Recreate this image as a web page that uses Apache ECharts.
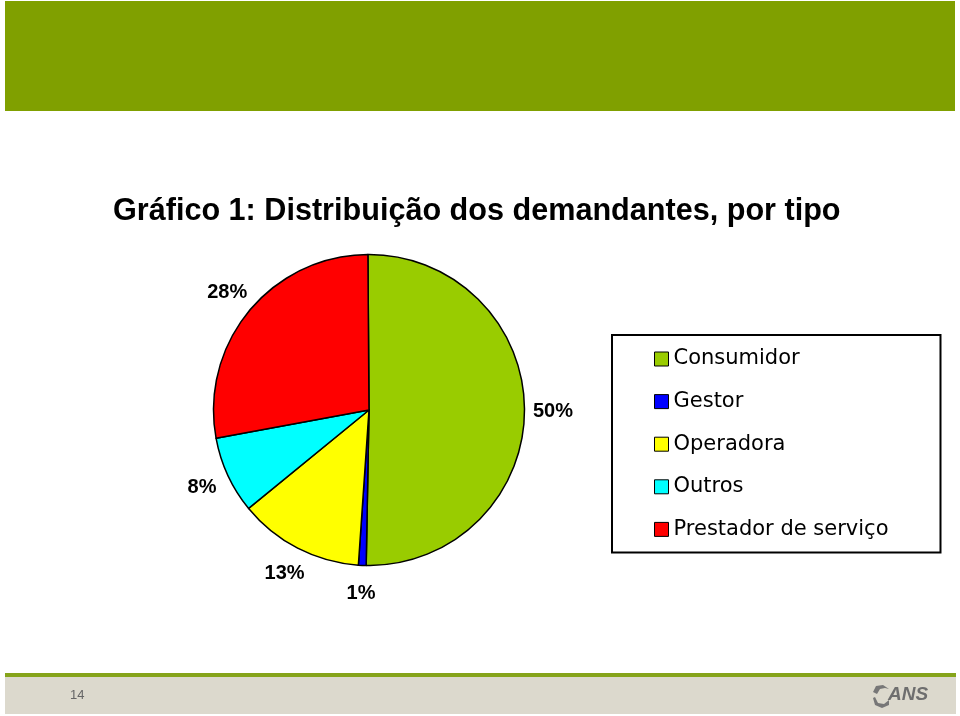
<!DOCTYPE html>
<html>
<head>
<meta charset="utf-8">
<script src="https://cdn.jsdelivr.net/npm/echarts@6/dist/echarts.min.js"></script>
<style>
html,body{margin:0;padding:0;background:#fff;}
#chart{width:960px;height:716px;}
</style>
</head>
<body>
<div id="chart"></div>
<script>
// Data
var categories = ['Consumidor', 'Gestor', 'Operadora', 'Outros', 'Prestador de serviço'];
var values = [50.4, 0.8, 13.0, 8.0, 27.8];
var colors = ['#99CC00', '#0000FF', '#FFFF00', '#00FFFF', '#FF0000'];
var titleText = 'Gráfico 1: Distribuição dos demandantes, por tipo';
var pageNumber = '14';

var pieData = categories.map(function (c, i) {
  return { name: c, value: values[i], itemStyle: { color: colors[i] } };
});
var labelData = categories.map(function (c, i) {
  return { name: c, value: values[i] };
});

var chart = echarts.init(document.getElementById('chart'), null, { renderer: 'canvas' });
chart.setOption({
  animation: false,
  backgroundColor: '#ffffff',
  title: {
    text: titleText,
    left: 108,
    top: 191,
    textStyle: { fontFamily: 'Liberation Sans', fontWeight: 'bold', fontSize: 30.6, color: '#000' }
  },
  legend: {
    orient: 'vertical',
    left: 612,
    top: 335,
    data: categories,
    icon: 'rect',
    itemWidth: 14,
    itemHeight: 14,
    itemGap: 18.6,
    padding: [12, 52, 11, 42],
    backgroundColor: '#ffffff',
    borderColor: '#000000',
    borderWidth: 2,
    selectedMode: false,
    itemStyle: { borderColor: '#000', borderWidth: 1 },
    textStyle: { fontFamily: 'DejaVu Sans', fontSize: 21, color: '#000', lineHeight: 24 }
  },
  graphic: [
    { type: 'rect', z: -1, shape: { x: 5, y: 1, width: 950, height: 110 }, style: { fill: '#80a000' } },
    { type: 'rect', z: -1, shape: { x: 5, y: 673, width: 951, height: 4 }, style: { fill: '#86a41a' } },
    { type: 'rect', z: -1, shape: { x: 5, y: 677, width: 951, height: 37 }, style: { fill: '#dcd9cd' } },
    { type: 'text', x: 70, y: 689, style: { text: pageNumber, fontFamily: 'Liberation Sans', fontSize: 13, fill: '#666' } },
    { type: 'text', x: 888, y: 685, style: { text: 'ANS', fontFamily: 'Liberation Sans', fontWeight: 'bold', fontStyle: 'italic', fontSize: 19, fill: '#6e6e6e' } },
    { type: 'polygon', shape: { points: [[889, 689], [883, 685], [876, 686], [873, 692], [877, 694], [880, 689], [885, 688]] }, style: { fill: '#777' } },
    { type: 'polygon', shape: { points: [[889, 700], [884, 704], [878, 703], [875, 697], [873, 698], [875, 705], [882, 708], [889, 705]] }, style: { fill: '#777' } }
  ],
  series: [
    {
      type: 'pie',
      center: [369, 410],
      radius: 155.5,
      startAngle: 90.4,
      clockwise: true,
      data: pieData,
      silent: true,
      label: { show: false },
      labelLine: { show: false },
      itemStyle: { borderColor: '#000', borderWidth: 1.5 }
    },
    {
      type: 'pie',
      center: [369, 410],
      radius: [169, 193],
      startAngle: 90.4,
      clockwise: true,
      data: labelData,
      silent: true,
      legendHoverLink: false,
      itemStyle: { color: 'rgba(0,0,0,0)', borderWidth: 0 },
      labelLine: { show: false },
      label: {
        show: true,
        position: 'inside',
        formatter: function (p) { return Math.round(p.percent) + '%'; },
        fontFamily: 'Liberation Sans',
        fontWeight: 'bold',
        fontSize: 20,
        color: '#000'
      }
    }
  ]
});
</script>
</body>
</html>
